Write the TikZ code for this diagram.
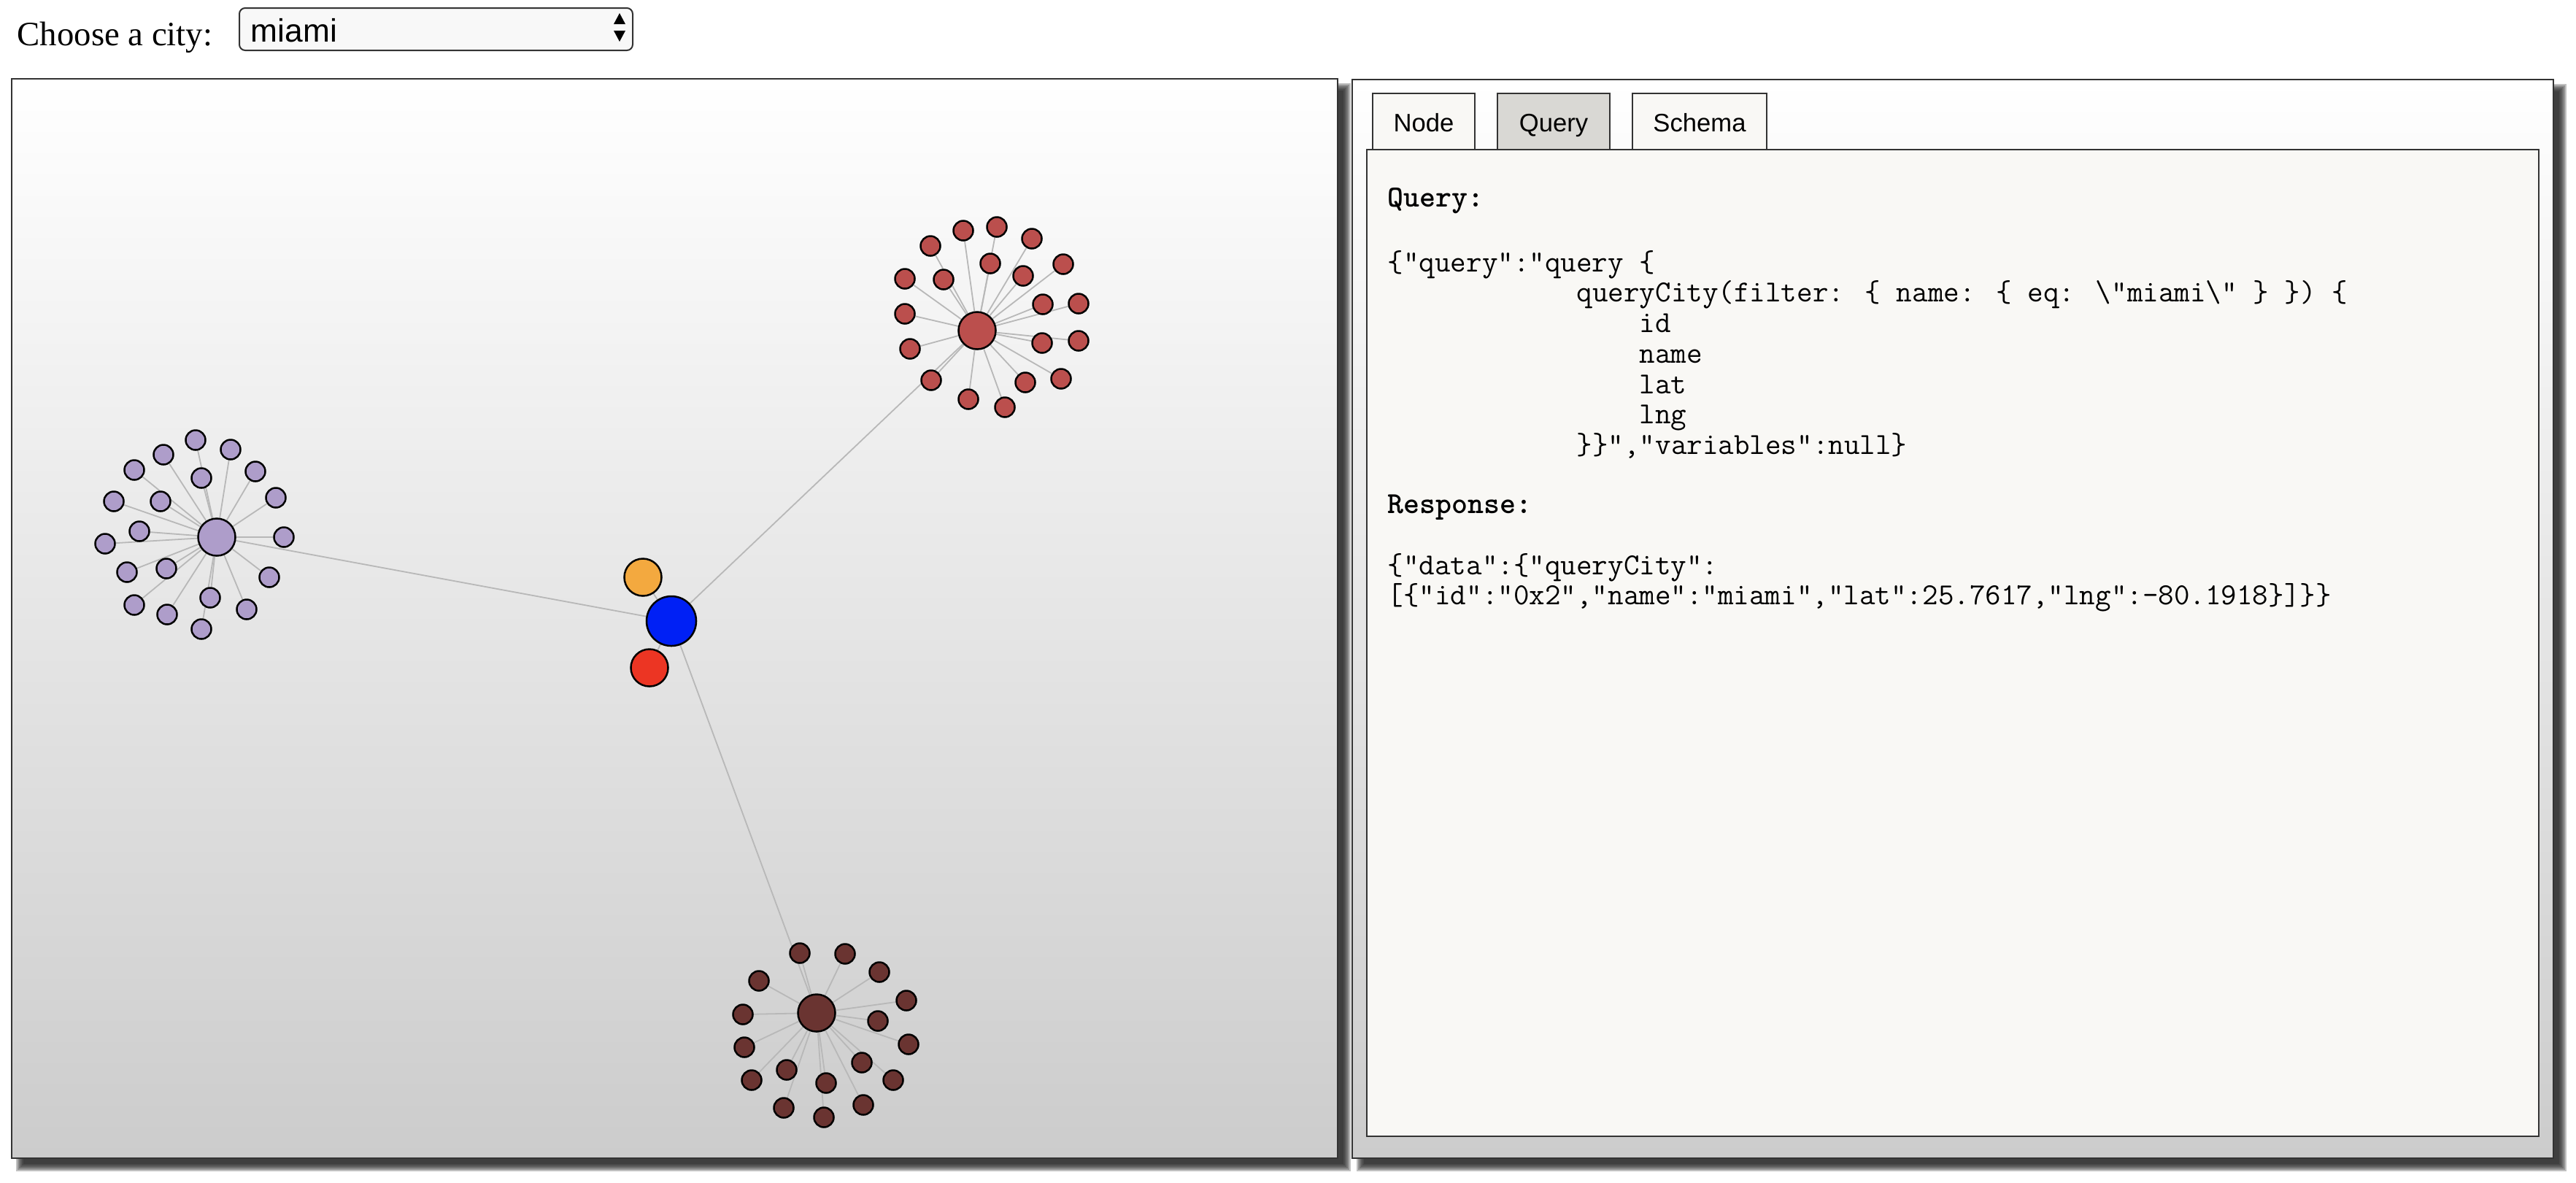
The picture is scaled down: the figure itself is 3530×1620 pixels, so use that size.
\documentclass[tikz,border=0pt]{standalone}
\usepackage{fontspec}
\newfontfamily\serifA{Liberation Serif}
\newfontfamily\sansA{Liberation Sans}
\definecolor{bordc}{HTML}{333333}
\definecolor{edgec}{HTML}{B8B8B8}
\definecolor{boxc}{HTML}{F9F8F5}
\definecolor{tabsel}{HTML}{D9D8D4}
\definecolor{selc}{HTML}{F8F8F8}
\definecolor{redc}{HTML}{BB4F4D}
\definecolor{purc}{HTML}{AE9DCA}
\definecolor{brnc}{HTML}{6A3431}
\definecolor{bluec}{HTML}{0020F5}
\definecolor{orac}{HTML}{F3A93F}
\definecolor{redd}{HTML}{EC3523}
\pgfdeclarelayer{bg}
\pgfdeclarelayer{edgelayer}
\pgfsetlayers{bg,edgelayer,main}
\newcommand\dropshadow[4]{\foreach \b in {-4,-2,0,2,4,6}{\fill[black!87, opacity=0.28] ({#1+12-\b},{#2+12-\b}) rectangle ({#3+12+\b},{#4+12+\b});}}
\begin{document}
\begin{tikzpicture}[x=0.01cm,y=-0.01cm,
  sat/.style={circle, draw=black, line width=0.025cm, minimum size=0.27cm, inner sep=0pt},
  hub/.style={circle, draw=black, line width=0.025cm, minimum size=0.51cm, inner sep=0pt},
  edge/.style={draw=edgec, line width=0.018cm},
  panel/.style={draw=bordc, line width=0.02cm, top color=white, bottom color=black!20},
  mono/.style={anchor=base west, inner sep=0pt, font=\ttfamily\fontsize{11.9pt}{14pt}\selectfont},
  monob/.style={anchor=base west, inner sep=0pt, font=\ttfamily\bfseries\fontsize{11.9pt}{14pt}\selectfont},
  tabbox/.style={draw=bordc, line width=0.02cm},
  tablabel/.style={anchor=base, inner sep=0pt, font=\sansA\fontsize{9.85pt}{12pt}\selectfont}
]
\useasboundingbox (0,0) rectangle (3530,1620);

% panels with shadows
\begin{pgfonlayer}{bg}
\fill[white] (0,0) rectangle (3530,1620);
\dropshadow{16}{108}{1833}{1587}
\dropshadow{1853}{109}{3499}{1587}
\shadedraw[panel] (16,108) rectangle (1833,1587);
\shadedraw[panel] (1853,109) rectangle (3499,1587);
\end{pgfonlayer}

% header
\node[anchor=base west, inner sep=0pt, font=\serifA\fontsize{13.3pt}{16pt}\selectfont] (choose) at (23,62) {Choose a city:};
\draw[draw=bordc, fill=selc, line width=0.02cm, rounded corners=0.08cm] (328,11) rectangle (867,69);
\node[anchor=base west, inner sep=0pt, font=\sansA\fontsize{12.6pt}{15pt}\selectfont] (city) at (343,57) {miami};
\fill[black] (841,33) -- (849,18) -- (857,33) -- cycle;
\fill[black] (841,42) -- (857,42) -- (849,57) -- cycle;

% right panel: tabs and box
\filldraw[tabbox, fill=boxc] (1881,205) -- (1881,128) -- (2021,128) -- (2021,205);
\filldraw[tabbox, fill=tabsel] (2052,205) -- (2052,128) -- (2206,128) -- (2206,205);
\filldraw[tabbox, fill=boxc] (2237,205) -- (2237,128) -- (2421,128) -- (2421,205);
\filldraw[draw=bordc, fill=boxc, line width=0.02cm] (1873,205) rectangle (3479,1557);
\node[tablabel] (tnode) at (1951,180) {Node};
\node[tablabel] (tquery) at (2129,180) {Query};
\node[tablabel] (tschema) at (2329,180) {Schema};

\node[monob] (qhead) at (1901,283) {Query:};
\node[mono] (q1) at (1901,372) {\{"query":"query \{};
\node[mono] (q2) at (2160,413) {queryCity(filter: \{ name: \{ eq: \textbackslash"miami\textbackslash" \} \}) \{};
\node[mono] (q3) at (2246,455) {id};
\node[mono] (q4) at (2246,497) {name};
\node[mono] (q5) at (2246,539) {lat};
\node[mono] (q6) at (2246,580) {lng};
\node[mono] (q7) at (2160,622) {\}\}","variables":null\}};
\node[monob] (rhead) at (1901,703) {Response:};
\node[mono] (r1) at (1901,787) {\{"data":\{"queryCity":};
\node[mono] (r2) at (1901,828) {[\{"id":"0x2","name":"miami","lat":25.7617,"lng":-80.1918\}]\}\}};

% graph nodes
\node[circle, draw=black, line width=0.025cm, minimum size=0.68cm, inner sep=0pt, fill=bluec] (blue) at (920,851) {};
\node[hub, fill=orac] (orange) at (881,791) {};
\node[hub, fill=redd] (red) at (890,915) {};

\node[hub, fill=redc] (rh) at (1339,453) {};
\foreach \px/\py [count=\i] in {1275/337,1320/316,1366/311,1414/327,1457/362,1240/382,1293/383,1357/361,1402/378,1429/417,1478/416,1240/430,1247/478,1428/470,1478/467,1276/521,1405/524,1454/519,1327/547,1377/558}
  \node[sat, fill=redc] (rs\i) at (\px,\py) {};

\node[hub, fill=purc] (ph) at (297,736) {};
\foreach \px/\py [count=\i] in {268/603,316/616,224/623,184/644,350/646,276/655,378/682,156/687,220/687,191/728,389/736,144/745,174/784,228/779,369/791,184/829,288/819,338/835,229/842,276/862}
  \node[sat, fill=purc] (ps\i) at (\px,\py) {};

\node[hub, fill=brnc] (bh) at (1119,1388) {};
\foreach \px/\py [count=\i] in {1096/1306,1158/1307,1205/1332,1040/1344,1242/1371,1018/1390,1203/1399,1020/1435,1245/1431,1181/1456,1078/1466,1030/1480,1132/1484,1224/1480,1183/1514,1074/1518,1129/1531}
  \node[sat, fill=brnc] (bs\i) at (\px,\py) {};

% edges
\begin{pgfonlayer}{edgelayer}
\foreach \i in {1,...,20} \draw[edge] (rh) -- (rs\i);
\foreach \i in {1,...,20} \draw[edge] (ph) -- (ps\i);
\foreach \i in {1,...,17} \draw[edge] (bh) -- (bs\i);
\draw[edge] (blue) -- (rh);
\draw[edge] (blue) -- (ph);
\draw[edge] (blue) -- (bh);
\draw[edge] (blue) -- (orange);
\draw[edge] (blue) -- (red);
\end{pgfonlayer}
\end{tikzpicture}
\end{document}
